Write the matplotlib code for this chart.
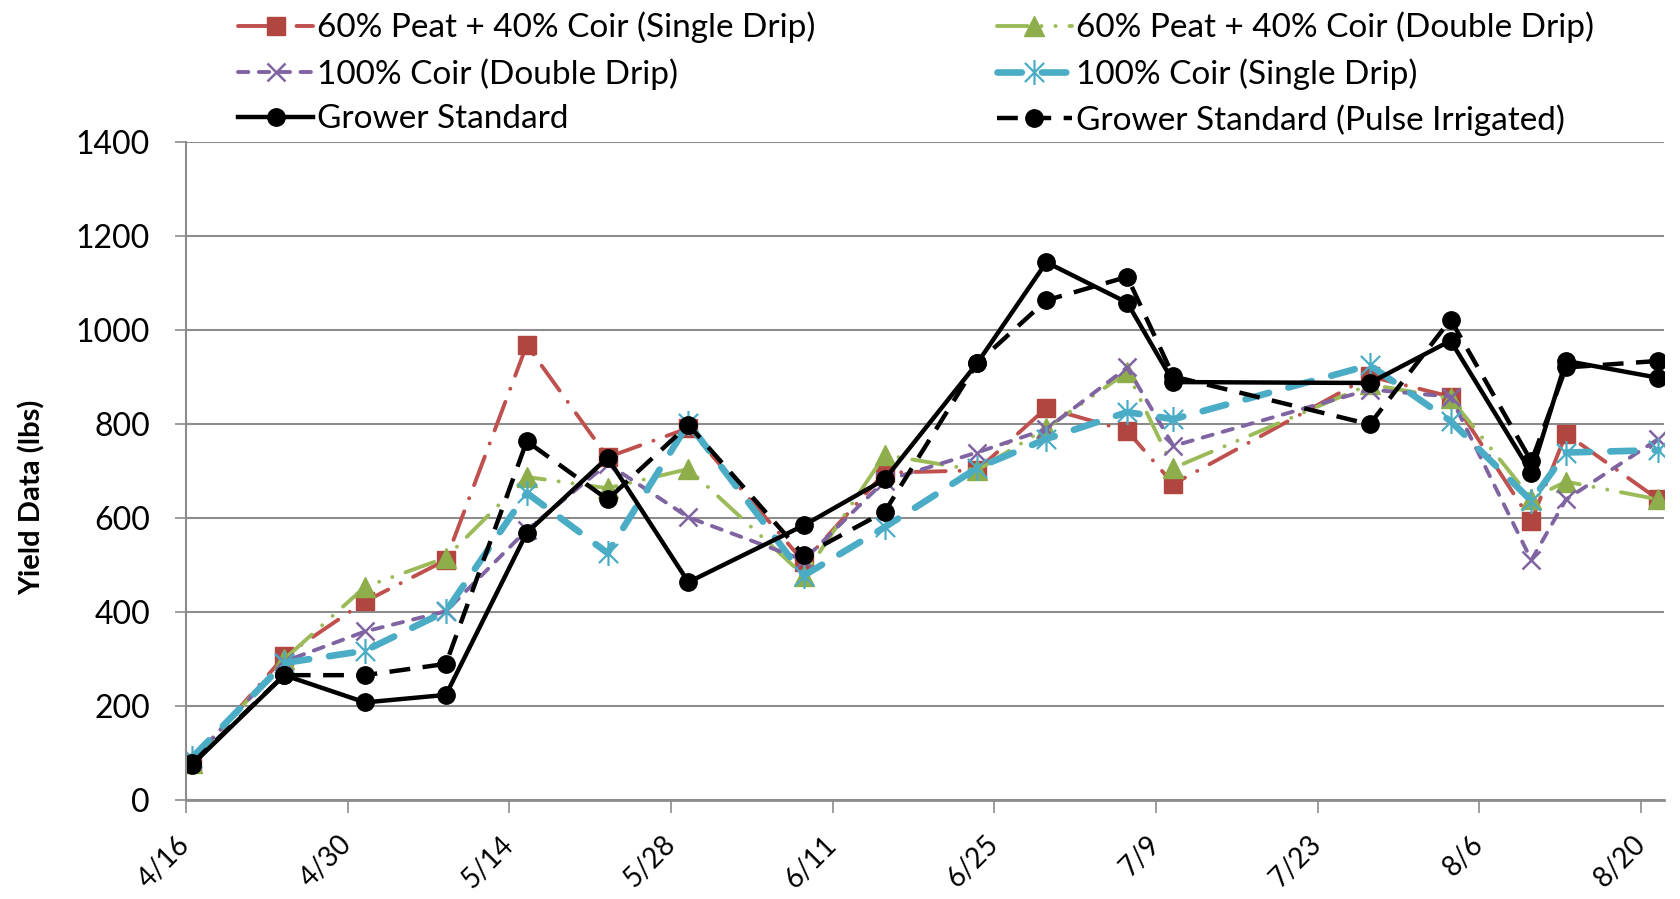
import matplotlib
matplotlib.use('Agg')
import matplotlib.pyplot as plt
import matplotlib.transforms as mtransforms
from matplotlib.path import Path
import pandas as pd

plt.rcParams['font.family'] = ['Lato', 'DejaVu Sans']
plt.rcParams['lines.scale_dashes'] = False

# ---------------- data ----------------
dates = ['2013-04-16', '2013-04-24', '2013-05-01', '2013-05-08', '2013-05-15',
         '2013-05-22', '2013-05-29', '2013-06-08', '2013-06-15', '2013-06-23',
         '2013-06-29', '2013-07-06', '2013-07-10', '2013-07-27', '2013-08-03',
         '2013-08-10', '2013-08-13', '2013-08-21']

peat_single = [80, 306, 423, 511, 969, 730, 792, 507, 697, 702, 835, 786, 673, 902, 859, 594, 780, 640]
peat_double = [80, 300, 454, 516, 688, 664, 705, 478, 735, 702, 792, 911, 707, 885, 855, 642, 678, 640]
coir_double = [85, 295, 359, 402, 575, 716, 602, 511, 680, 740, 790, 921, 754, 874, 859, 511, 640, 769]
coir_single = [90, 292, 318, 402, 654, 526, 802, 478, 581, 707, 769, 826, 811, 926, 807, 637, 740, 745]
grower_std = [75, 266, 208, 224, 569, 729, 464, 585, 683, 930, 1145, 1059, 890, 888, 978, 697, 935, 899]
grower_pulse = [78, 266, 266, 290, 764, 640, 799, 521, 614, 930, 1064, 1114, 902, 800, 1023, 721, 921, 935]

labels = ['60% Peat + 40% Coir (Single Drip)', '60% Peat + 40% Coir (Double Drip)',
          '100% Coir (Double Drip)', '100% Coir (Single Drip)',
          'Grower Standard', 'Grower Standard (Pulse Irrigated)']

tick_dates = ['2013-04-16', '2013-04-30', '2013-05-14', '2013-05-28', '2013-06-11',
              '2013-06-25', '2013-07-09', '2013-07-23', '2013-08-06', '2013-08-20']
tick_labels = ['4/16', '4/30', '5/14', '5/28', '6/11', '6/25', '7/9', '7/23', '8/6', '8/20']

y_ticks = [0, 200, 400, 600, 800, 1000, 1200, 1400]

# ---------------- styling ----------------
x = pd.to_datetime(dates) + pd.Timedelta(hours=12)

star = Path([(-1, -1), (1, 1), (-1, 1), (1, -1), (0, -1.3), (0, 1.3)],
            [Path.MOVETO, Path.LINETO, Path.MOVETO, Path.LINETO, Path.MOVETO, Path.LINETO])

styles = [
    dict(color='#C0504D', ls=(0, (22, 10, 0.1, 10)), lw=2.8, marker='s', ms=13,
         mfc='#B0463F', mec='#B0463F', dash_capstyle='round'),
    dict(color='#9BBB59', ls=(0, (22, 10, 0.1, 10, 0.1, 10)), lw=2.8, marker='^', ms=14,
         mfc='#8DAE4B', mec='#8DAE4B', dash_capstyle='round'),
    dict(color='#8064A2', ls=(0, (7.5, 7.5)), lw=2.8, marker='x', ms=13, mew=1.8,
         dash_capstyle='round'),
    dict(color='#4BACC6', ls=(0, (17.5, 14.5)), lw=4.8, marker=star, ms=18, mew=1.6,
         mfc='none', mec='#4BACC6', dash_capstyle='round'),
    dict(color='black', ls='-', lw=3.2, marker='o', ms=12.5),
    dict(color='black', ls=(0, (15, 9)), lw=3.2, marker='o', ms=12.5),
]

series = [peat_single, peat_double, coir_double, coir_single, grower_std, grower_pulse]

fig = plt.figure(figsize=(16.81, 8.99), dpi=100)
ax = fig.add_axes([0.1107, 0.110, 0.99 - 0.1107, 0.8415 - 0.110])

handles = []
for vals, lab, st in zip(series, labels, styles):
    h, = ax.plot(x, vals, label=lab, **st)
    handles.append(h)

ax.set_ylim(0, 1400)
ax.set_yticks(y_ticks)
ax.set_xlim(pd.Timestamp('2013-04-16'), pd.Timestamp('2013-08-22'))
ax.set_xticks(pd.to_datetime(tick_dates))
ax.set_xticklabels(tick_labels, rotation=45, ha='right', va='center',
                   rotation_mode='anchor')
shift = mtransforms.ScaledTranslation(0.12, 0, fig.dpi_scale_trans)
for lbl in ax.get_xticklabels():
    lbl.set_transform(lbl.get_transform() + shift)

grid_c = '#8C8C8C'
ax.yaxis.grid(True, color=grid_c, lw=1.5)
ax.set_axisbelow(True)
for s in ['top', 'right']:
    ax.spines[s].set_visible(False)
ax.spines['left'].set_color(grid_c)
ax.spines['left'].set_linewidth(1.5)
ax.spines['bottom'].set_color(grid_c)
ax.spines['bottom'].set_linewidth(2)
ax.tick_params(axis='x', direction='out', length=9, width=1.2, color=grid_c,
               labelsize=20, pad=20)
ax.tick_params(axis='y', direction='out', length=8, width=1.2, color=grid_c,
               labelsize=23, pad=18)

ax.set_ylabel('Yield Data (lbs)', fontsize=21, fontweight='bold', va='center')
ax.yaxis.set_label_coords(-0.104, 0.46)

common = dict(loc='upper left', frameon=False, fontsize=24, handlelength=2.25,
              handletextpad=0.12, labelspacing=0.44, borderpad=0, borderaxespad=0,
              numpoints=1)
leg1 = fig.legend([handles[0], handles[2], handles[4]], [labels[0], labels[2], labels[4]],
                  bbox_to_anchor=(0.1416, 0.987), **common)
leg2 = fig.legend([handles[1], handles[3], handles[5]], [labels[1], labels[3], labels[5]],
                  bbox_to_anchor=(0.593, 0.987), **common)

fig.savefig('out.png', dpi=100)
